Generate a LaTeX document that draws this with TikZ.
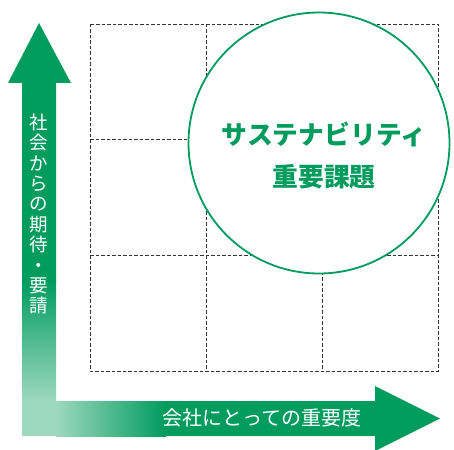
\documentclass[tikz,border=0pt]{standalone}
\usepackage{fontspec}
\setmainfont{Noto Sans CJK JP}
\usepackage{tikz}
\usetikzlibrary{calc,positioning}
\definecolor{sgreen}{RGB}{0,156,94}
\definecolor{lgreen}{RGB}{158,216,190}
\tikzstyle{cell}=[
  draw=black!80,
  line width=0.9pt,
  dash pattern=on 3.5pt off 2pt,
]
\tikzstyle{theme}=[
  circle,
  draw=sgreen,
  fill=white,
  line width=1.8pt,
  minimum size=261pt,
  inner sep=0pt,
]
\tikzstyle{themetext}=[
  color=sgreen,
  align=center,
  font={\fontsize{25.8}{42}\selectfont\bfseries},
]
\tikzstyle{axistext}=[
  color=white,
  align=center,
  inner sep=0pt,
]
\tikzset{
  x=1pt,
  y=-1pt,
}
\begin{document}
\begin{tikzpicture}
  \useasboundingbox (0,0) rectangle (454,449);
  %% grid
  \draw[cell] (90,24) rectangle (438,371);
  \foreach \gx in {206,322}
    \draw[cell] (\gx,24) -- (\gx,371);
  \foreach \gy in {139,255}
    \draw[cell] (90,\gy) -- (438,\gy);
  %%
  \node (circ) [theme] at (319,143) {};
  \node (label) [themetext] at (324,156) {サステナビリティ\\重要課題};
  %% vertical arrow
  \fill[sgreen] (22,281) -- (22,83) -- (8,83) -- (39,23) -- (71,83)
    -- (56,83) -- (56,281) -- cycle;
  \shade[top color=sgreen, bottom color=lgreen] (22,280) rectangle (56,401);
  \fill[lgreen] (22,400.5) rectangle (56,436);
  %% horizontal arrow
  \shade[left color=lgreen, right color=sgreen] (56,401) rectangle (166,436);
  \fill[sgreen] (165,401) -- (375,401) -- (375,386) -- (440,418.5)
    -- (375,451) -- (375,436) -- (165,436) -- cycle;
  %%
  \node (yaxis) [axistext, font={\fontsize{18.5}{20.4}\selectfont}] at (39,214)
    {社\\会\\か\\ら\\の\\期\\待\\・\\要\\請};
  \node (xaxis) [axistext, font={\fontsize{20}{24}\selectfont}] at (262,418)
    {会社にとっての重要度};
\end{tikzpicture}
\end{document}
